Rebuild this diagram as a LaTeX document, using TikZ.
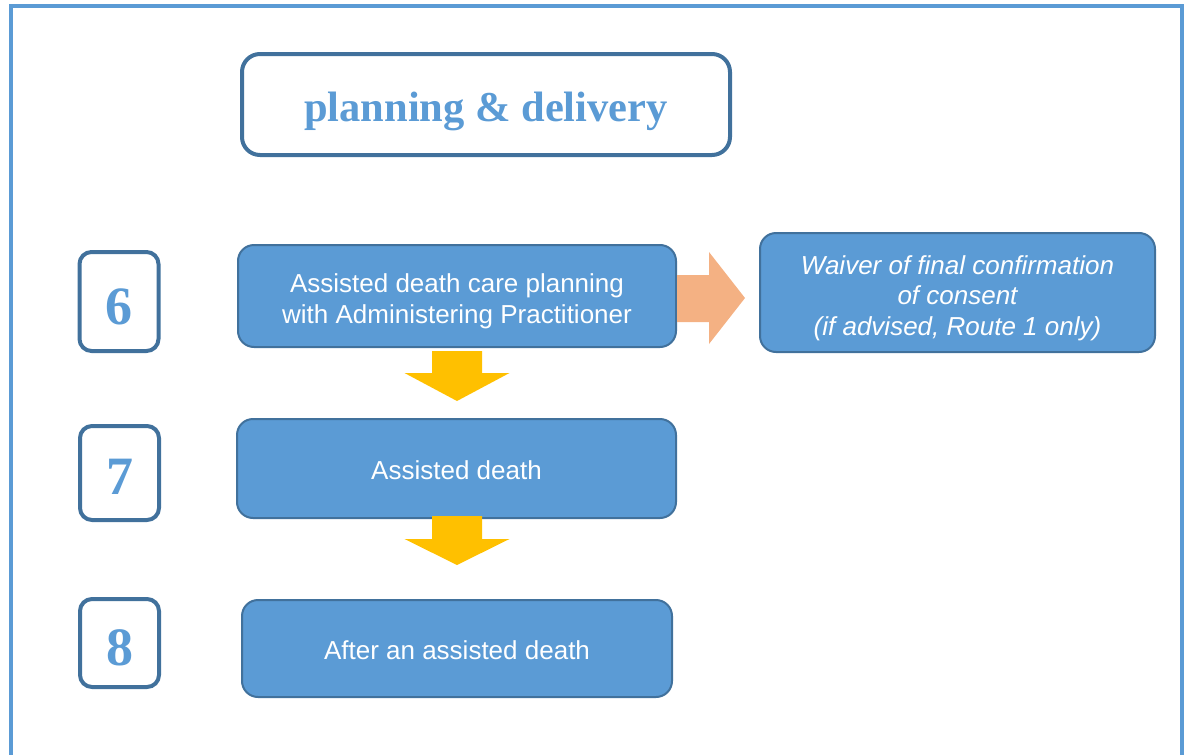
\documentclass[tikz,border=0pt]{standalone}
\usepackage{fontspec}
\setmainfont{Liberation Sans}
\newfontfamily\serifbf{Liberation Serif}
\usetikzlibrary{calc}
\definecolor{midblue}{HTML}{5B9BD5}
\definecolor{dkblue}{HTML}{41719C}
\definecolor{arrowyellow}{HTML}{FFC000}
\definecolor{arroworange}{HTML}{F4B183}
% lower a text inside its node without changing its extent
\newcommand{\lowerline}[2]{\raisebox{-#1}[\height][\depth]{#2}}
\newcommand{\lowertext}[2]{\raisebox{-#1}[\height][\depth]{\begin{tabular}{@{}c@{}}#2\end{tabular}}}
\tikzset{
  titlebox/.style={draw=dkblue, line width=4pt, rounded corners=18pt, fill=white,
    minimum width=488pt, minimum height=101pt, text=midblue,
    font=\serifbf\bfseries\fontsize{42.5}{42.5}\selectfont},
  numbox/.style={draw=dkblue, line width=4pt, rounded corners=12pt, fill=white,
    minimum width=79pt, text=midblue,
    font=\serifbf\bfseries\fontsize{54}{54}\selectfont},
  stepbox/.style={draw=dkblue, line width=2pt, rounded corners=16pt, fill=midblue,
    text=white, font=\fontsize{26}{31}\selectfont},
  downarrow/.style={fill=arrowyellow, draw=none},
  sidearrow/.style={fill=arroworange, draw=none},
}
\begin{document}
\begin{tikzpicture}[x=1pt,y=-1pt]
\useasboundingbox (0,0) rectangle (1189,755);
% outer frame
\draw[midblue, line width=3.5pt] (11,770) -- (11,6) -- (1182,6) -- (1182,770);

\node[titlebox] (title) at (486,104.5) {\lowerline{7pt}{planning \& delivery}};

\node[numbox, minimum height=99pt] (n6) at (119,301.5) {\lowerline{5pt}{6}};
\node[numbox, minimum height=94pt] (n7) at (119.5,473) {\lowerline{4pt}{7}};
\node[numbox, minimum height=88pt] (n8) at (119.5,643) {\lowerline{5pt}{8}};

\node[stepbox, minimum width=438pt, minimum height=102pt] (s1) at (457,296)
  {\lowertext{5.5pt}{Assisted death care planning\\with Administering Practitioner}};
\node[stepbox, minimum width=439pt, minimum height=99pt] (s2) at (456.5,468.5)
  {\lowerline{2pt}{Assisted death}};
\node[stepbox, minimum width=430pt, minimum height=97pt] (s3) at (457,648.5)
  {\lowerline{2pt}{After an assisted death}};
\node[stepbox, minimum width=395pt, minimum height=119pt, font=\itshape\fontsize{26}{30.5}\selectfont] (w) at (957.5,292.5)
  {\lowertext{6pt}{Waiver of final confirmation\\of consent\\(if advised, Route 1 only)}};

% yellow block arrows
\fill[downarrow] ($(s1.south)+(-25,3)$) -- ($(s1.south)+(25,3)$) -- ($(s1.south)+(25,25)$)
  -- ($(s1.south)+(52.5,25)$) -- ($(s2.north)+(0.5,-17)$) -- ($(s1.south)+(-52.5,25)$)
  -- ($(s1.south)+(-25,25)$) -- cycle;
\fill[downarrow] ($(s2.south)+(-24.5,-3)$) -- ($(s2.south)+(25.5,-3)$) -- ($(s2.south)+(25.5,20)$)
  -- ($(s2.south)+(53,20)$) -- ($(s3.north)+(0,-34)$) -- ($(s2.south)+(-52,20)$)
  -- ($(s2.south)+(-24.5,20)$) -- cycle;
% orange side arrow
\fill[sidearrow] ($(s1.east)+(0,-21)$) -- ($(s1.east)+(32,-21)$) -- ($(s1.east)+(32,-44)$)
  -- ($(w.west)+(-14,5.5)$) -- ($(s1.east)+(32,48)$) -- ($(s1.east)+(32,26)$)
  -- ($(s1.east)+(0,26)$) -- cycle;
\end{tikzpicture}
\end{document}
